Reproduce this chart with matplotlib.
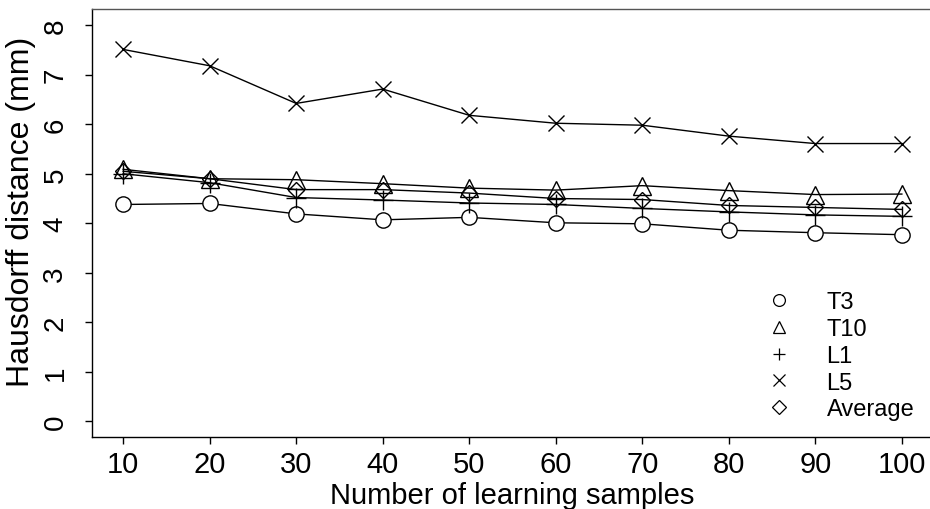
import matplotlib.pyplot as plt
from matplotlib.lines import Line2D

plt.rcParams['font.family'] = ['Liberation Sans', 'DejaVu Sans']

samples = [10, 20, 30, 40, 50, 60, 70, 80, 90, 100]
t3 = [4.38, 4.40, 4.19, 4.07, 4.12, 4.01, 3.99, 3.86, 3.81, 3.77]
t10 = [5.09, 4.90, 4.88, 4.80, 4.71, 4.67, 4.76, 4.66, 4.58, 4.59]
l1 = [5.00, 4.82, 4.52, 4.47, 4.41, 4.38, 4.30, 4.23, 4.17, 4.14]
l5 = [7.51, 7.18, 6.42, 6.71, 6.18, 6.02, 5.98, 5.76, 5.61, 5.61]
average = [5.05, 4.90, 4.68, 4.68, 4.61, 4.50, 4.48, 4.36, 4.32, 4.28]

labels = ["T3", "T10", "L1", "L5", "Average"]
markers = ["o", "^", "+", "x", "D"]
sizes = [11, 13, 14, 11, 11]
series = [t3, t10, l1, l5, average]

fig = plt.figure(figsize=(9.3, 5.1), dpi=100)
ax = fig.add_axes([92 / 930, (510 - 438.3) / 510, (933 - 92) / 930, (438.3 - 10.3) / 510])

for vals, m, s in zip(series, markers, sizes):
    ms = s * 0.75 if m == "D" else s
    face = "white" if m == "o" else "none"
    ax.plot(samples, vals, color="black", lw=1.0, marker=m, markersize=ms,
            markerfacecolor=face, markeredgecolor="black", markeredgewidth=1.0)

ax.set_xlim(6.4, 103.6)
ax.set_ylim(-0.32, 8.32)
ax.set_xticks(samples)
ax.set_yticks(range(0, 9))
ax.tick_params(axis="both", direction="out", length=5, width=1, color="black")
ax.tick_params(axis="x", labelsize=21, pad=4)
ax.tick_params(axis="y", labelsize=20, pad=12, labelrotation=90)
for lab in ax.get_yticklabels():
    lab.set_va("center")
ax.spines["right"].set_visible(False)
for sp in ["left", "bottom", "top"]:
    ax.spines[sp].set_linewidth(1.0)
ax.spines["top"].set_color("#555555")

ax.set_xlabel("Number of learning samples", fontsize=21, labelpad=2)
ax.set_ylabel("Hausdorff distance (mm)", fontsize=23)
ax.yaxis.set_label_coords(-0.066, 0.53)

handles = [Line2D([], [], ls="none", marker=m, color="black", markerfacecolor="none",
                  markersize=(8.5 if m != "D" else 7.5), markeredgewidth=0.9)
           for m in markers]
ax.legend(handles, labels, frameon=False, fontsize=17, loc="lower left",
          bbox_to_anchor=(0.778, -0.01), handletextpad=1.5, labelspacing=0.2,
          handlelength=1.0)

fig.savefig("out.png", dpi=100)
